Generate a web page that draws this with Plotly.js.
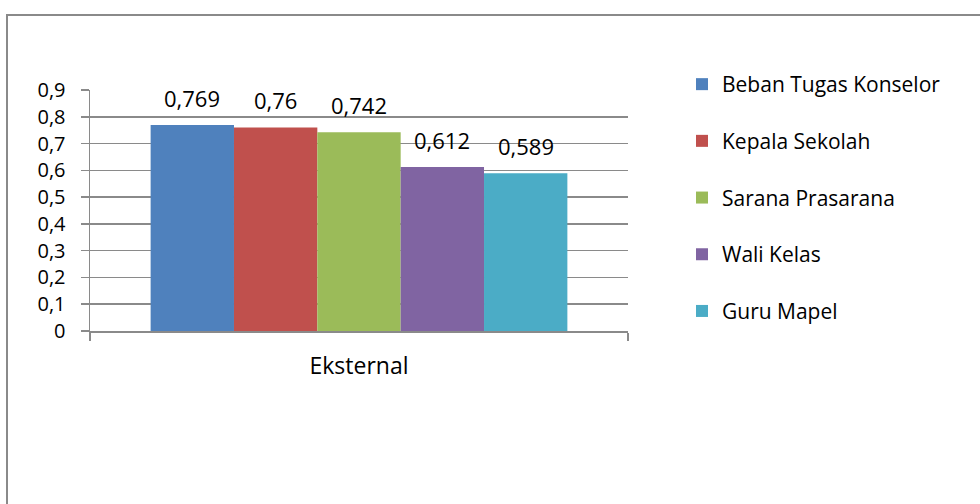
<!DOCTYPE html>
<html>
<head>
<meta charset="utf-8">
<script src="https://cdn.plot.ly/plotly-3.0.1.min.js"></script>
<style>
  html, body { margin: 0; padding: 0; background: #fff; }
  #wrap { position: relative; width: 980px; height: 504px; overflow: hidden; }
  #chart { position: absolute; left: 0; top: 0; width: 980px; height: 504px; }
  #frame { position: absolute; left: 6px; top: 14px; width: 1000px; height: 600px;
           border-left: 2px solid #8a8a8a; border-top: 2px solid #8a8a8a; pointer-events: none; }
</style>
</head>
<body>
<div id="wrap"><div id="chart"></div><div id="frame"></div></div>
<script>
const categories = ["Eksternal"];
const seriesNames = ["Beban Tugas Konselor", "Kepala Sekolah", "Sarana Prasarana", "Wali Kelas", "Guru Mapel"];
const seriesValues = [0.769, 0.76, 0.742, 0.612, 0.589];
const seriesLabels = ["0,769", "0,76", "0,742", "0,612", "0,589"];
const colors = ["#4F81BD", "#C0504D", "#9BBB59", "#8064A2", "#4BACC6"];
const yTicks = [0, 0.1, 0.2, 0.3, 0.4, 0.5, 0.6, 0.7, 0.8, 0.9];

const FONT = "'Open Sans', sans-serif";
const bargap = 0.2254;
const n = seriesNames.length;
const w = (1 - bargap) / n;

const traces = seriesNames.map((name, i) => ({
  type: "bar",
  name: name,
  x: categories,
  y: [seriesValues[i]],
  marker: { color: colors[i], line: { width: 0 } },
  legendgroup: "g" + i,
  hoverinfo: "none"
}));

const annotations = seriesValues.map((v, i) => ({
  xref: "x", yref: "y",
  x: (i - (n - 1) / 2) * w,
  y: v,
  text: seriesLabels[i],
  showarrow: false,
  yanchor: "bottom",
  yshift: 10,
  font: { family: FONT, size: 22, color: "#000" }
}));

const layout = {
  width: 980, height: 504,
  margin: { l: 90, r: 352, t: 90, b: 173, pad: 0 },
  paper_bgcolor: "#fff",
  plot_bgcolor: "#fff",
  separators: ", ",
  barmode: "group",
  bargap: bargap,
  bargroupgap: 0,
  font: { family: FONT, size: 22, color: "#000" },
  showlegend: true,
  legend: {
    x: (682 - 90) / 538, xanchor: "left",
    y: 1 + (90 - 64) / 241, yanchor: "top",
    font: { family: FONT, size: 21, color: "#000" },
    tracegroupgap: 26.4,
    maxheight: 420,
    bgcolor: "rgba(0,0,0,0)",
    itemclick: false
  },
  xaxis: {
    type: "category",
    range: [-0.5, 0.5],
    showline: true, linecolor: "#8a8a8a", linewidth: 1.5,
    ticks: "outside", tickson: "boundaries", ticklen: 8, tickcolor: "#8a8a8a", tickwidth: 1.5,
    ticklabelstandoff: 14,
    showgrid: false, zeroline: false,
    tickfont: { family: FONT, size: 23, color: "#000" },
    fixedrange: true
  },
  yaxis: {
    range: [0, 0.9],
    tickvals: yTicks,
    showline: true, linecolor: "#8a8a8a", linewidth: 1.5,
    ticks: "outside", ticklen: 8, tickcolor: "#8a8a8a", tickwidth: 1.5,
    ticklabelstandoff: 11,
    showgrid: true, gridcolor: "#8a8a8a", gridwidth: 1.5,
    zeroline: false,
    tickfont: { family: FONT, size: 20, color: "#000" },
    fixedrange: true
  },
  annotations: annotations
};

Plotly.newPlot("chart", traces, layout, { displayModeBar: false, staticPlot: true });
</script>
</body>
</html>
